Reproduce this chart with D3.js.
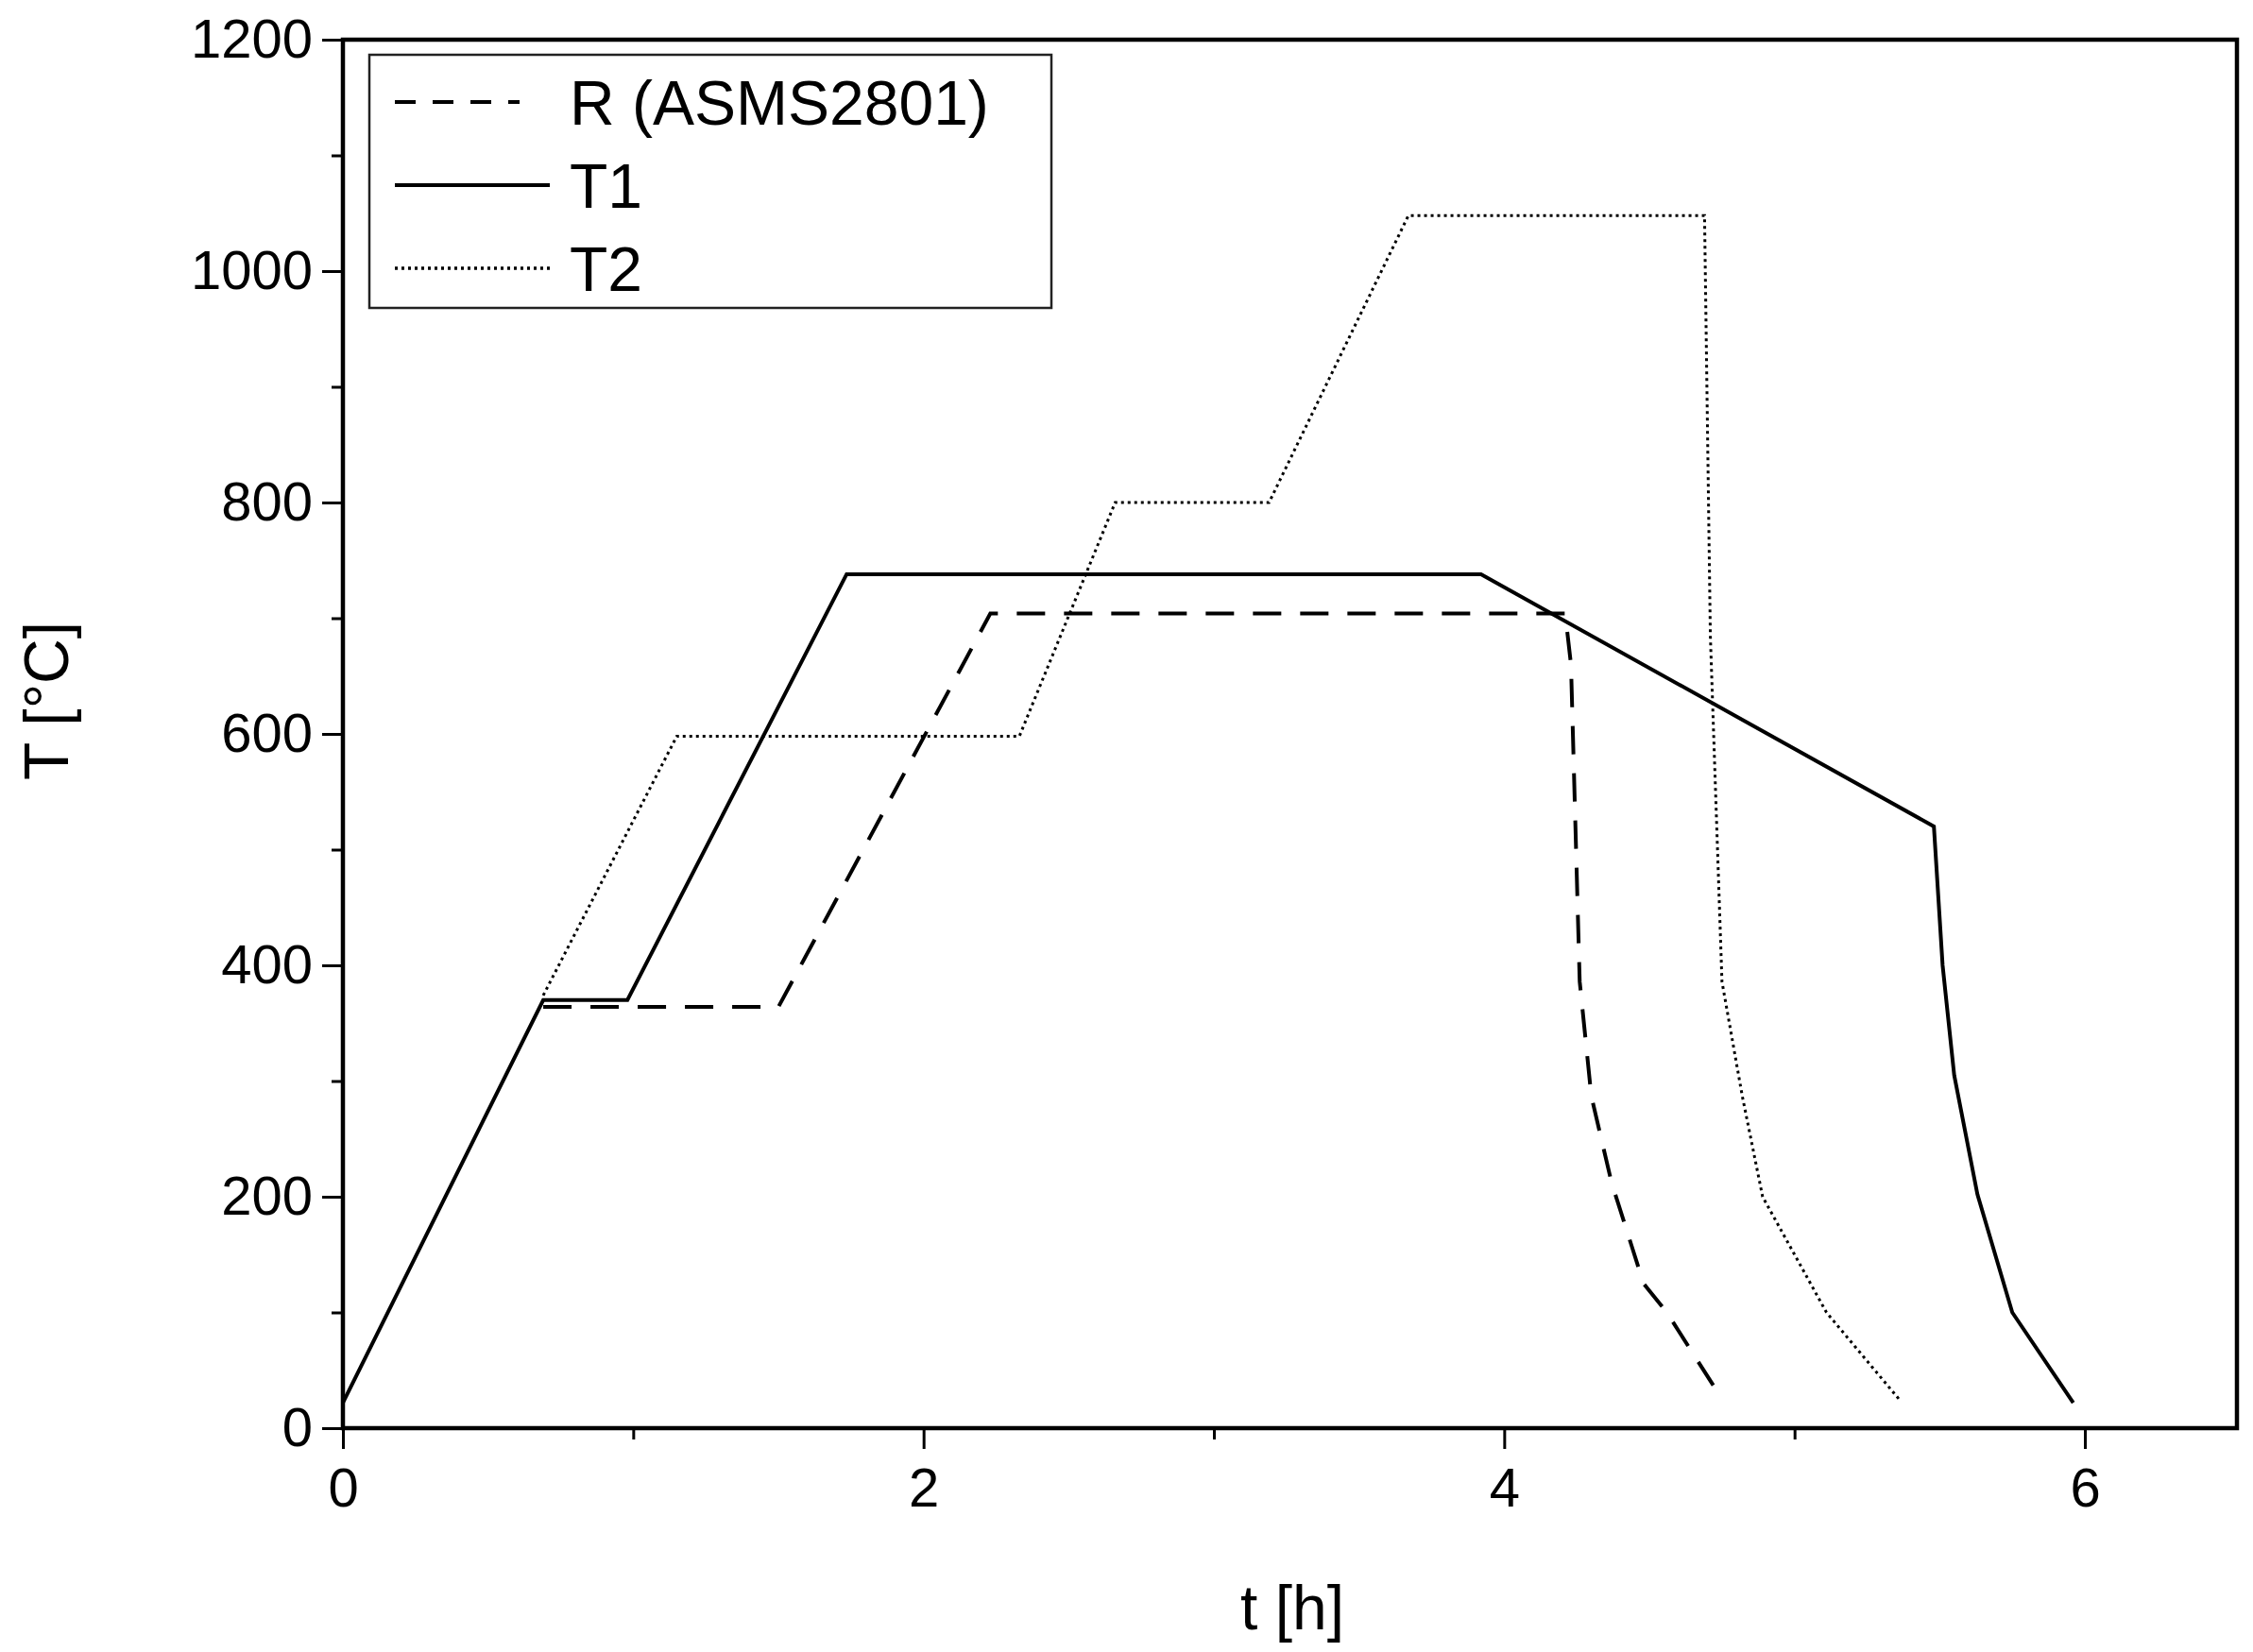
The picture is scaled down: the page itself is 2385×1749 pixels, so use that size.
<!DOCTYPE html><html><head><meta charset="utf-8">
<script src="https://cdn.jsdelivr.net/npm/d3@7"></script>
<style>body{margin:0;background:#fff}text{font-family:"Liberation Sans",Arial,sans-serif;fill:#000}</style>
</head><body><svg id="c" width="2385" height="1749"></svg><script>
const seriesNames=["R (ASMS2801)","T1","T2"];
const R_t=[0.69,1.50,2.23,4.21,4.23,4.26,4.30,4.37,4.48,4.56,4.72];
const R_T=[364,364,704,704,660,386,287,212,125,100,37];
const T1_t=[0,0.69,0.98,1.735,3.92,5.48,5.51,5.55,5.63,5.75,5.96];
const T1_T=[22,370,370,738,738,520,400,305,202,100,22];
const T2_t=[0.69,1.15,2.33,2.66,3.19,3.67,4.69,4.71,4.75,4.82,4.89,5.11,5.36];
const T2_T=[374,598,598,800,800,1048,1048,685,386,287,200,100,25];
const xTicks=[0,2,4,6], yTicks=[0,200,400,600,800,1000,1200];
const svg=d3.select("#c");
const L=363,Rr=2368,Tp=42,B=1512;
const x=d3.scaleLinear().domain([0,6.5238]).range([L,Rr]);
const y=d3.scaleLinear().domain([0,1200]).range([B,Tp]);
const fs=58;
svg.append("g").attr("transform",`translate(${L},0)`).call(d3.axisLeft(y).tickValues(yTicks).tickSize(22).tickPadding(10).tickFormat(d3.format("d")));
svg.append("g").attr("transform",`translate(${L},0)`).call(d3.axisLeft(y).tickValues(d3.range(100,1200,200)).tickSize(12).tickFormat(""));
svg.append("g").attr("transform",`translate(0,${B})`).call(d3.axisBottom(x).tickValues(xTicks).tickSize(22).tickPadding(20).tickFormat(d3.format("d")));
svg.append("g").attr("transform",`translate(0,${B})`).call(d3.axisBottom(x).tickValues([1,3,5]).tickSize(12).tickFormat(""));
svg.selectAll(".domain").remove();
svg.selectAll(".tick line").attr("stroke","#000").attr("stroke-width",3);
svg.selectAll(".tick text").attr("font-size",fs).attr("font-family",'"Liberation Sans",sans-serif').attr("transform","scale(0.9,1.08)").each(function(){});
// keep scaled text positioned: apply scale per text around its own anchor
svg.selectAll(".tick text").attr("transform",null).attr("font-size",fs);
svg.append("rect").attr("x",L).attr("y",Tp).attr("width",Rr-L).attr("height",B-Tp).attr("fill","none").attr("stroke","#000").attr("stroke-width",4.5);
const line=d3.line().x(d=>x(d[0])).y(d=>y(d[1]));
const styles=[{dash:"30,20",w:4},{dash:null,w:4},{dash:"3,4",w:3}];
const data=[d3.zip(R_t,R_T),d3.zip(T1_t,T1_T),d3.zip(T2_t,T2_T)];
data.forEach((d,i)=>svg.append("path").attr("d",line(d)).attr("fill","none").attr("stroke","#000").attr("stroke-width",styles[i].w).attr("stroke-dasharray",styles[i].dash));
svg.append("rect").attr("x",391).attr("y",58).attr("width",722).attr("height",268).attr("fill","#fff").attr("stroke","#222").attr("stroke-width",2.5);
seriesNames.forEach((n,i)=>{const yy=108+i*88;
 svg.append("line").attr("x1",418).attr("x2",i==0?550:582).attr("y1",yy).attr("y2",yy).attr("stroke","#000").attr("stroke-width",styles[i].w+(i==2?0.5:0)).attr("stroke-dasharray",i==0?"22,18":styles[i].dash);
 svg.append("text").attr("x",603).attr("y",yy+24).attr("font-size",66).text(n);});
svg.append("text").attr("x",1368).attr("y",1725).attr("text-anchor","middle").attr("font-size",66).text("t [h]");
svg.append("text").attr("transform","translate(72,742) rotate(-90)").attr("text-anchor","middle").attr("font-size",66).text("T [°C]");
</script></body></html>
